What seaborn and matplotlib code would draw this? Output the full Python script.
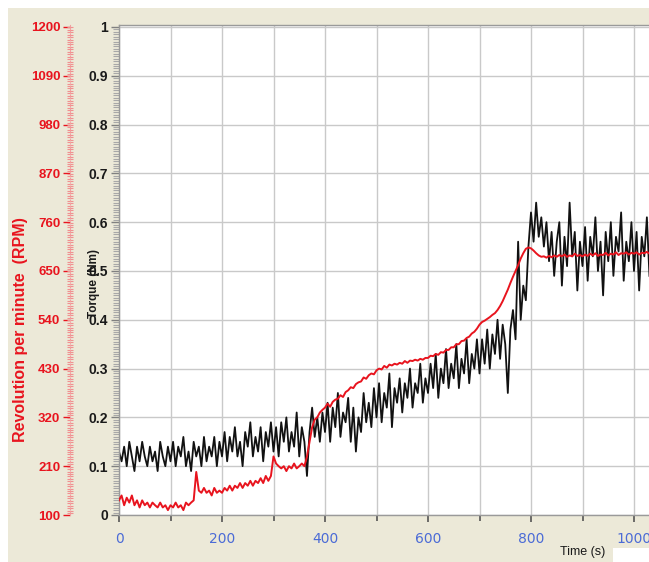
import numpy as np
import pandas as pd
import matplotlib
matplotlib.use("Agg")
import matplotlib.pyplot as plt
import seaborn as sns
from matplotlib.patches import Rectangle
from matplotlib.ticker import MultipleLocator, FixedLocator

# ---------------- data ----------------
time_s = np.arange(0, 1031, 5)

torque_nm = [
    0.13, 0.11, 0.14, 0.10, 0.15, 0.12, 0.09, 0.14, 0.11, 0.15, 0.12, 0.10, 0.14, 0.11, 0.13, 0.09, 0.15, 0.12, 0.10, 0.14,
    0.11, 0.15, 0.10, 0.14, 0.12, 0.16, 0.10, 0.13, 0.09, 0.15, 0.12, 0.14, 0.10, 0.16, 0.11, 0.14, 0.12, 0.16, 0.10, 0.15,
    0.12, 0.17, 0.11, 0.16, 0.13, 0.18, 0.12, 0.15, 0.10, 0.17, 0.14, 0.19, 0.12, 0.16, 0.13, 0.18, 0.11, 0.17, 0.14, 0.19,
    0.13, 0.18, 0.12, 0.19, 0.15, 0.20, 0.13, 0.17, 0.14, 0.21, 0.12, 0.18, 0.15, 0.08, 0.17, 0.22, 0.16, 0.20, 0.15, 0.21,
    0.17, 0.23, 0.15, 0.22, 0.18, 0.25, 0.16, 0.21, 0.19, 0.24, 0.15, 0.22, 0.13, 0.20, 0.17, 0.25, 0.19, 0.23, 0.18, 0.26,
    0.20, 0.27, 0.19, 0.25, 0.22, 0.29, 0.18, 0.26, 0.23, 0.28, 0.21, 0.27, 0.24, 0.30, 0.22, 0.27, 0.25, 0.31, 0.23, 0.28,
    0.25, 0.31, 0.26, 0.33, 0.24, 0.30, 0.27, 0.34, 0.26, 0.31, 0.28, 0.35, 0.26, 0.32, 0.29, 0.36, 0.27, 0.33, 0.30, 0.36,
    0.29, 0.36, 0.31, 0.38, 0.30, 0.37, 0.33, 0.40, 0.32, 0.39, 0.35, 0.25, 0.38, 0.42, 0.36, 0.56, 0.40, 0.47, 0.44, 0.55,
    0.62, 0.56, 0.64, 0.57, 0.61, 0.55, 0.60, 0.52, 0.58, 0.49, 0.56, 0.60, 0.47, 0.57, 0.51, 0.64, 0.53, 0.58, 0.46, 0.56,
    0.51, 0.59, 0.48, 0.57, 0.53, 0.61, 0.50, 0.56, 0.45, 0.58, 0.52, 0.60, 0.49, 0.57, 0.54, 0.62, 0.48, 0.56, 0.52, 0.60,
    0.50, 0.58, 0.46, 0.57, 0.53, 0.61, 0.49,
]

rpm = [
    133, 144, 122, 139, 128, 144, 122, 133, 117, 133, 122, 128, 117, 128, 122, 117, 128, 117, 122, 111,
    122, 117, 128, 117, 122, 111, 128, 122, 128, 133, 197, 155, 150, 161, 150, 155, 144, 161, 150, 155,
    150, 161, 155, 166, 155, 166, 161, 172, 161, 172, 166, 177, 166, 177, 172, 183, 172, 188, 177, 188,
    232, 216, 210, 205, 210, 199, 210, 205, 216, 205, 210, 216, 210, 232, 265, 298, 315, 320, 331, 337,
    342, 351, 344, 355, 360, 362, 370, 366, 377, 381, 388, 386, 395, 399, 401, 410, 407, 415, 419, 417,
    426, 430, 428, 436, 432, 439, 437, 441, 439, 443, 441, 447, 443, 448, 447, 450, 448, 452, 450, 454,
    454, 459, 458, 463, 461, 467, 466, 472, 472, 478, 478, 485, 485, 492, 493, 499, 502, 509, 513, 520,
    529, 535, 538, 542, 546, 551, 555, 562, 571, 582, 595, 608, 623, 637, 650, 663, 678, 690, 700, 703,
    701, 696, 690, 685, 682, 683, 680, 684, 681, 685, 682, 686, 683, 687, 682, 685, 683, 689, 684, 686,
    683, 687, 684, 689, 685, 690, 684, 687, 686, 691, 685, 689, 687, 692, 686, 690, 689, 692, 687, 691,
    689, 692, 687, 691, 690, 693, 689,
]

x_ticks = [0, 200, 400, 600, 800, 1000]
torque_ticks = [0, 0.1, 0.2, 0.3, 0.4, 0.5, 0.6, 0.7, 0.8, 0.9, 1.0]
torque_tick_labels = ["0", "0.1", "0.2", "0.3", "0.4", "0.5", "0.6", "0.7", "0.8", "0.9", "1"]
rpm_ticks = [100, 210, 320, 430, 540, 650, 760, 870, 980, 1090, 1200]

df = pd.DataFrame({"time": time_s, "torque": torque_nm, "rpm": rpm})

# ---------------- figure ----------------
W, H = 649, 562
fig = plt.figure(figsize=(W / 100, H / 100), dpi=100, facecolor="white")
fig.patches.append(Rectangle((8 / W, 0), 1, (H - 8) / H, transform=fig.transFigure,
                             facecolor="#ECE9D8", edgecolor="none", zorder=-10))
fig.patches.append(Rectangle((613 / W, 0), 1, 14 / H, transform=fig.transFigure,
                             facecolor="white", edgecolor="none", zorder=-9))

ax = fig.add_axes([119 / W, 1 - 515 / H, 530 / W, 490 / H])
ax.set_facecolor("white")

red = "#E8141E"
blue = "#4B6BD6"
grid_c = "#C9C9C9"

sns.lineplot(data=df, x="time", y="torque", ax=ax, color="#111111", linewidth=1.3)
ax.set_xlim(0, 530 / 0.515)
ax.set_ylim(0, 1.004)

ax.xaxis.set_major_locator(FixedLocator(x_ticks))
ax.xaxis.set_minor_locator(MultipleLocator(100))
ax.yaxis.set_major_locator(FixedLocator(torque_ticks))
ax.set_yticklabels(torque_tick_labels)
ax.yaxis.set_minor_locator(MultipleLocator(0.005))
ax.grid(True, which="major", axis="both", color=grid_c, linewidth=1.0)
ax.grid(True, which="minor", axis="x", color=grid_c, linewidth=1.0)
ax.set_axisbelow(True)

ax.spines["right"].set_visible(False)
for s in ["left", "top", "bottom"]:
    ax.spines[s].set_color("#9A9A9A")
    ax.spines[s].set_linewidth(1.0)

ax.tick_params(axis="y", which="major", length=6, width=1, color="#808080",
               labelsize=10, labelcolor="#1a1a1a", pad=2)
ax.tick_params(axis="y", which="minor", length=4, width=0.8, color="#A8A8A8")
ax.tick_params(axis="x", which="major", length=5, width=1.2, color="#555555",
               labelsize=10, labelcolor=blue, pad=7)
ax.tick_params(axis="x", which="minor", length=4, width=1.2, color="#555555")
for lab in ax.get_yticklabels():
    lab.set_fontweight("bold")
    lab.set_family("Liberation Sans")
for lab in ax.get_xticklabels():
    lab.set_family("DejaVu Sans")
ax.set_xlabel("")
ax.set_ylabel("")

# RPM axis
ax2 = ax.twinx()
sns.lineplot(data=df, x="time", y="rpm", ax=ax2, color=red, linewidth=1.4)
ax2.set_ylim(100, 100 + 1100 * 1.004)
ax2.set_xlim(ax.get_xlim())
ax2.yaxis.set_ticks_position("left")
ax2.yaxis.set_label_position("left")
ax2.spines["left"].set_position(("axes", -49 / 530))
ax2.spines["left"].set_color("#F2A0A0")
ax2.spines["left"].set_linestyle((0, (1, 1.5)))
ax2.spines["left"].set_linewidth(0.8)
for s in ["right", "top", "bottom"]:
    ax2.spines[s].set_visible(False)
ax2.yaxis.set_major_locator(FixedLocator(rpm_ticks))
ax2.yaxis.set_minor_locator(MultipleLocator(5.5))
ax2.tick_params(axis="y", which="major", length=5, width=1, color=red,
                labelsize=9.5, labelcolor=red, pad=2)
ax2.tick_params(axis="y", which="minor", direction="inout", length=4, width=0.8,
                color="#F09090")
for lab in ax2.get_yticklabels():
    lab.set_fontweight("bold")
    lab.set_family("Liberation Sans")
ax2.set_ylabel("")
ax2.set_xlabel("")

fig.text(21 / W, 1 - 330 / H, "Revolution per minute  (RPM)", rotation=90, color=red,
         fontsize=11.5, fontweight="bold", family="Liberation Sans", ha="center", va="center")
fig.text(94 / W, 1 - 283 / H, "Torque (Nm)", rotation=90, color="#1a1a1a",
         fontsize=8.5, fontweight="bold", family="Liberation Sans", ha="center", va="center")
fig.text(560 / W, 1 - 552 / H, "Time (s)", color="#1a1a1a", fontsize=9,
         family="Liberation Sans", ha="left", va="center")

fig.savefig("out.png", dpi=100, facecolor="white")
